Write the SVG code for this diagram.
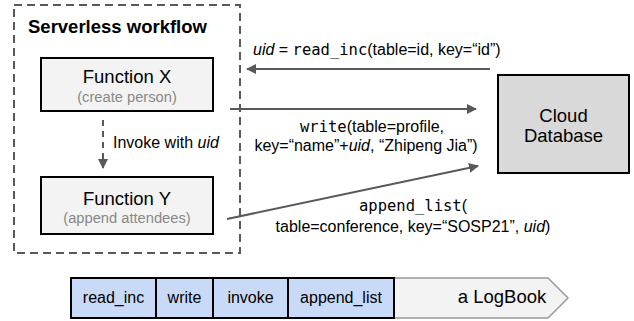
<svg xmlns="http://www.w3.org/2000/svg" width="634" height="321" viewBox="0 0 634 321">
  <style>
    text { font-family: "Liberation Sans", Arial, sans-serif; fill: #000; }
    .title { font-size: 18.5px; font-weight: bold; }
    .fname { font-size: 18.5px; text-anchor: middle; }
    .fsub { font-size: 14.7px; fill: #888; text-anchor: middle; }
    .lbl { font-size: 16px; }
    .mid { text-anchor: middle; }
    .mono { font-family: "DejaVu Sans Mono", "Liberation Mono", monospace; font-size: 15.5px; }
    .fn { fill: #f3f3f3; stroke: #000; stroke-width: 2; }
    .db { fill: #d9d9d9; stroke: #000; stroke-width: 2; }
    .cell { fill: #c9daf8; stroke: #000; stroke-width: 2; }
    .edge { stroke: #595959; stroke-width: 2; fill: none; }
  </style>
  <defs>
    <marker id="arrow" viewBox="0 0 10 10" refX="9" refY="5" markerWidth="5" markerHeight="5" orient="auto" markerUnits="strokeWidth">
      <path d="M0,0 L10,5 L0,10 z" fill="#595959"/>
    </marker>
  </defs>

  <!-- workflow container -->
  <g id="workflow">
    <rect x="14" y="5" width="226" height="248" fill="none" stroke="#595959" stroke-width="2" stroke-dasharray="8,5"/>
    <text class="title" x="28" y="33">Serverless workflow</text>
  </g>

  <g id="function-x">
    <rect class="fn" x="41" y="58" width="172" height="53"/>
    <text class="fname" x="127" y="83">Function X</text>
    <text class="fsub" x="127" y="102">(create person)</text>
  </g>

  <g id="function-y">
    <rect class="fn" x="41" y="177" width="172" height="57"/>
    <text class="fname" x="127" y="205">Function Y</text>
    <text class="fsub" x="127" y="223">(append attendees)</text>
  </g>

  <g id="cloud-db">
    <rect class="db" x="498" y="75" width="131" height="98"/>
    <text class="fname" x="563.5" y="122">Cloud</text>
    <text class="fname" x="563.5" y="142">Database</text>
  </g>

  <!-- calls between functions and storage -->
  <g id="connectors">
    <line class="edge" x1="103" y1="120" x2="103" y2="168" stroke-dasharray="6,5" marker-end="url(#arrow)"/>
    <line class="edge" x1="490" y1="69" x2="247" y2="69" marker-end="url(#arrow)"/>
    <line class="edge" x1="230" y1="109" x2="476" y2="109" marker-end="url(#arrow)"/>
    <line class="edge" x1="227" y1="219" x2="478" y2="166" marker-end="url(#arrow)"/>

    <text class="lbl" x="113" y="148">Invoke with <tspan font-style="italic">uid</tspan></text>
    <text class="lbl" x="253" y="55"><tspan font-style="italic">uid</tspan> = <tspan class="mono">read_inc</tspan>(table=id, key=“id”)</text>
    <text class="lbl mid" x="372" y="132"><tspan class="mono">write</tspan>(table=profile,</text>
    <text class="lbl mid" x="366" y="151">key=“name”+<tspan font-style="italic">uid</tspan>, “Zhipeng Jia”)</text>
    <text class="lbl mid" x="413" y="211"><tspan class="mono">append_list</tspan>(</text>
    <text class="lbl mid" x="413" y="232">table=conference, key=“SOSP21”, <tspan font-style="italic">uid</tspan>)</text>
  </g>

  <!-- log of recorded operations -->
  <g id="logbook">
    <polygon points="394,278 548,278 568,298 548,318 394,318" fill="#f3f3f3" stroke="#999" stroke-width="1.5"/>
    <rect class="cell" x="71" y="278" width="85" height="40"/>
    <rect class="cell" x="156" y="278" width="57" height="40"/>
    <rect class="cell" x="213" y="278" width="75" height="40"/>
    <rect class="cell" x="288" y="278" width="106" height="40"/>
    <text class="lbl mid" x="113.5" y="303">read_inc</text>
    <text class="lbl mid" x="184.5" y="303">write</text>
    <text class="lbl mid" x="250.5" y="303">invoke</text>
    <text class="lbl mid" x="341" y="303">append_list</text>
    <text class="fname" x="502" y="303">a LogBook</text>
  </g>
</svg>
